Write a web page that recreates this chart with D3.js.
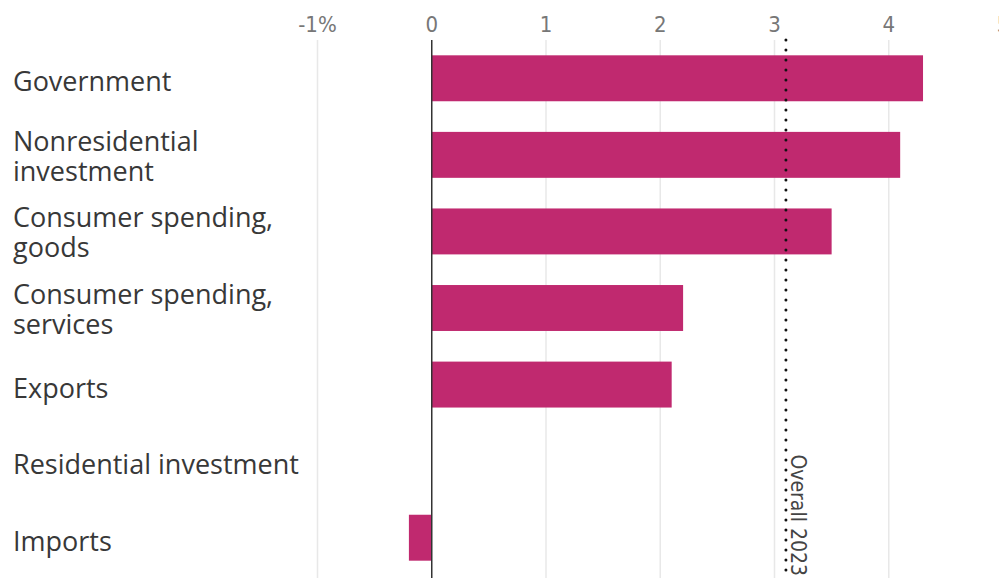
<!DOCTYPE html>
<html>
<head>
<meta charset="utf-8">
<script src="https://cdn.jsdelivr.net/npm/d3@7"></script>
<style>
  html, body { margin: 0; padding: 0; background: #fff; }
  svg { display: block; }
</style>
</head>
<body>
<div id="chart"></div>
<script>
const categories = ["Government", "Nonresidential investment", "Consumer spending, goods",
  "Consumer spending, services", "Exports", "Residential investment", "Imports"];
const labelLines = [["Government"], ["Nonresidential", "investment"], ["Consumer spending,", "goods"],
  ["Consumer spending,", "services"], ["Exports"], ["Residential investment"], ["Imports"]];
const values = [4.3, 4.1, 3.5, 2.2, 2.1, 0, -0.2];
const tickValues = [-1, 0, 1, 2, 3, 4, 5];
const tickLabels = ["-1%", "0", "1", "2", "3", "4", "5"];
const overall = 3.1;
const overallLabel = "Overall 2023";

const width = 999, height = 578;
const narrow = '"Liberation Sans Narrow", "DejaVu Sans Condensed", sans-serif';

const svg = d3.select("#chart").append("svg")
  .attr("width", width)
  .attr("height", height);

const x = d3.scaleLinear().domain([-1, 5]).range([317.5, 1003]);
const y = d3.scaleBand().domain(categories).range([40, 576])
  .paddingInner(0.4).paddingOuter(0.2);

// gridlines
svg.append("g").selectAll("line")
  .data(tickValues.filter(d => d !== 0))
  .enter().append("line")
  .attr("x1", d => x(d)).attr("x2", d => x(d))
  .attr("y1", 40).attr("y2", height)
  .attr("stroke", "#e8e8e8")
  .attr("stroke-width", 1.5);

// tick labels on top
svg.append("g").selectAll("text")
  .data(tickValues)
  .enter().append("text")
  .attr("x", d => x(d))
  .attr("y", 32)
  .attr("text-anchor", "middle")
  .attr("font-family", narrow)
  .attr("font-size", 22)
  .attr("fill", "#777")
  .text((d, i) => tickLabels[i]);

// bars
svg.append("g").selectAll("rect")
  .data(values)
  .enter().append("rect")
  .attr("x", d => x(Math.min(0, d)))
  .attr("y", (d, i) => y(categories[i]))
  .attr("width", d => Math.abs(x(d) - x(0)))
  .attr("height", y.bandwidth())
  .attr("fill", "#c0296f");

// zero line
svg.append("line")
  .attr("x1", x(0)).attr("x2", x(0))
  .attr("y1", 40).attr("y2", height)
  .attr("stroke", "#333")
  .attr("stroke-width", 1.5);

// overall dotted line
svg.append("line")
  .attr("x1", x(overall)).attr("x2", x(overall))
  .attr("y1", 40).attr("y2", height)
  .attr("stroke", "#111")
  .attr("stroke-width", 3)
  .attr("stroke-linecap", "round")
  .attr("stroke-dasharray", "0,10");

svg.append("text")
  .attr("transform", `translate(${x(overall) + 5},576) rotate(90)`)
  .attr("text-anchor", "end")
  .attr("font-family", narrow)
  .attr("font-size", 21)
  .attr("fill", "#444")
  .text(overallLabel);

// category labels
const labels = svg.append("g").selectAll("text")
  .data(labelLines)
  .enter().append("text")
  .attr("font-family", '"Open Sans", sans-serif')
  .attr("font-size", 27)
  .attr("fill", "#383838")
  .attr("y", (d, i) => {
    const c = y(categories[i]) + y.bandwidth() / 2;
    return d.length === 1 ? c + 13 : c - 4;
  });

labels.selectAll("tspan")
  .data(d => d)
  .enter().append("tspan")
  .attr("x", 13)
  .attr("dy", (d, i) => i === 0 ? 0 : 30)
  .text(d => d);
</script>
</body>
</html>
